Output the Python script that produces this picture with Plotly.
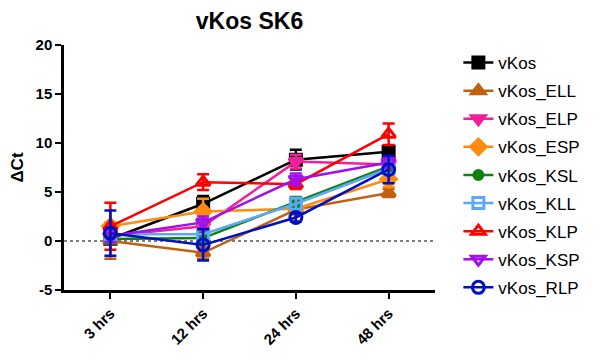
import plotly.graph_objects as go

timepoints = ["3 hrs", "12 hrs", "24 hrs", "48 hrs"]

series_names = ["vKos", "vKos_ELL", "vKos_ELP", "vKos_ESP", "vKos_KSL",
                "vKos_KLL", "vKos_KLP", "vKos_KSP", "vKos_RLP"]

vkos = [0.2, 3.8, 8.3, 9.1]
vkos_ell = [0.0, -1.2, 3.2, 4.9]
vkos_elp = [0.5, 1.5, 8.1, 7.8]
vkos_esp = [1.5, 3.0, 3.3, 6.3]
vkos_ksl = [0.2, 0.3, 4.0, 7.6]
vkos_kll = [0.7, 0.7, 3.8, 7.4]
vkos_klp = [1.5, 6.0, 5.8, 10.9]
vkos_ksp = [0.5, 1.9, 6.3, 8.0]
vkos_rlp = [0.8, -0.4, 2.4, 7.3]

vkos_err = [0.5, 0.8, 1.0, 0.6]
vkos_ell_err = [1.8, 0.6, 0.5, 0.4]
vkos_elp_err = [0.6, 0.5, 0.7, 0.5]
vkos_esp_err = [0.4, 1.3, 0.5, 0.8]
vkos_ksl_err = [0.5, 0.5, 0.5, 0.5]
vkos_kll_err = [0.8, 0.6, 0.6, 0.5]
vkos_klp_err = [2.4, 0.8, 0.5, 1.1]
vkos_ksp_err = [0.6, 0.6, 0.6, 0.5]
vkos_rlp_err = [2.3, 1.6, 0.4, 1.4]

values = [vkos, vkos_ell, vkos_elp, vkos_esp, vkos_ksl,
          vkos_kll, vkos_klp, vkos_ksp, vkos_rlp]
errors = [vkos_err, vkos_ell_err, vkos_elp_err, vkos_esp_err, vkos_ksl_err,
          vkos_kll_err, vkos_klp_err, vkos_ksp_err, vkos_rlp_err]

colors = ["#000000", "#C06010", "#F0209A", "#FF8C10", "#108010",
          "#5CA8F8", "#FF0000", "#A010E8", "#0010C0"]
symbols = ["square", "triangle-up", "triangle-down", "diamond", "circle",
           "square-open", "triangle-up-open", "triangle-down-open", "circle-open"]
sizes = [11, 12, 12, 12, 9, 11, 12, 12, 12]

fig = go.Figure()

for i, name in enumerate(series_names):
    fig.add_trace(go.Scatter(
        x=timepoints, y=values[i], name=name, mode="lines+markers",
        legendgroup=name,
        line=dict(color=colors[i], width=2.5),
        marker=dict(symbol=symbols[i], size=sizes[i], color=colors[i],
                    line=dict(color=colors[i], width=3)),
        error_y=dict(type="data", array=errors[i], visible=True,
                     color=colors[i], thickness=2.5, width=6),
    ))

# dotted baseline at zero
fig.add_shape(type="line", xref="paper", yref="y", x0=0, x1=1, y0=0, y1=0,
              line=dict(color="black", width=1, dash="dot"), layer="below")

fig.update_layout(
    width=600, height=360,
    margin=dict(l=64, r=165, t=45, b=68),
    plot_bgcolor="white", paper_bgcolor="white",
    font=dict(family="Liberation Sans, Arial", color="black"),
    title=dict(text="<b>vKos SK6</b>", x=(64 + 435) / 2 / 600, xanchor="center",
               y=1 - 21 / 360, yanchor="middle", font=dict(size=23)),
    showlegend=True,
    legend=dict(x=1.063, xanchor="left", y=1.0, yanchor="top",
                font=dict(size=17), traceorder="grouped", tracegroupgap=3,
                itemwidth=30, maxheight=340),
    xaxis=dict(type="category", range=[-0.5, 3.5], showline=True,
               linecolor="black", linewidth=2.5, ticks="outside",
               ticklen=6, tickwidth=2, tickcolor="black", tickangle=-45,
               tickfont=dict(size=15, family="Liberation Sans, Arial"),
               showgrid=False, zeroline=False),
    yaxis=dict(range=[-5, 20], tickvals=[-5, 0, 5, 10, 15, 20],
               ticktext=["<b>-5</b>", "<b>0</b>", "<b>5</b>", "<b>10</b>",
                         "<b>15</b>", "<b>20</b>"],
               showline=True, linecolor="black", linewidth=2.5,
               ticks="outside", ticklen=6, tickwidth=2, tickcolor="black",
               tickfont=dict(size=15), showgrid=False, zeroline=False,
               title=dict(text="<b>ΔCt</b>", font=dict(size=17), standoff=8)),
)
fig.update_xaxes(ticktext=["<b>" + t + "</b>" for t in timepoints],
                 tickvals=timepoints)

fig.write_html("out.html")
